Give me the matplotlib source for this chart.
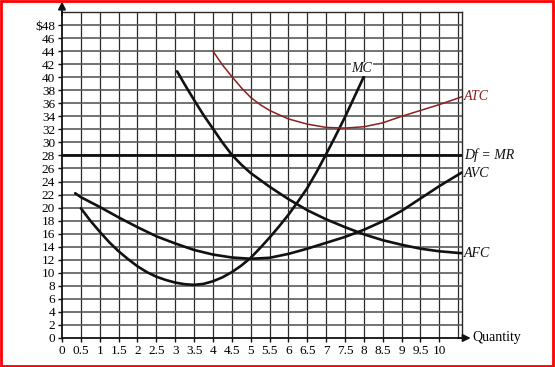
import numpy as np
import matplotlib.pyplot as plt
from matplotlib.patches import Rectangle

# Кривые издержек
mc_q = [0.5, 0.75, 1.0, 1.25, 1.5, 1.75, 2.0, 2.25, 2.5, 2.75, 3.0, 3.25, 3.5, 3.75,
        4.0, 4.25, 4.5, 4.75, 5.0, 5.25, 5.5, 5.75, 6.0, 6.25, 6.5, 6.75, 7.0, 7.25,
        7.5, 7.75, 8.0]
mc = [19.9, 18.0, 16.3, 14.7, 13.3, 12.1, 11.0, 10.1, 9.4, 8.9, 8.5, 8.25, 8.15, 8.3,
      8.7, 9.3, 10.1, 11.1, 12.3, 13.8, 15.4, 17.1, 18.9, 20.9, 23.0, 25.5, 28.2, 31.0,
      33.9, 37.0, 40.1]

avc_q = [0.35, 0.5, 1.0, 1.5, 2.0, 2.5, 3.0, 3.5, 4.0, 4.5, 5.0, 5.5, 6.0, 6.5,
         7.0, 7.5, 8.0, 8.5, 9.0, 9.5, 10.0, 10.6]
avc = [22.2, 21.6, 20.1, 18.5, 17.0, 15.6, 14.5, 13.5, 12.8, 12.35, 12.15, 12.3,
       12.9, 13.7, 14.6, 15.5, 16.6, 17.9, 19.5, 21.4, 23.3, 25.4]

afc_q = [3.05, 3.25, 3.5, 3.75, 4.0, 4.25, 4.5, 4.75, 5.0, 5.5, 6.0, 6.5, 7.0, 7.5,
         8.0, 8.5, 9.0, 9.5, 10.0, 10.6]
afc = [40.9, 38.9, 36.5, 34.2, 32.1, 30.0, 28.1, 26.6, 25.3, 23.2, 21.3, 19.6, 18.2,
       17.0, 15.9, 15.0, 14.3, 13.7, 13.3, 13.0]

atc_q = [4.0, 4.25, 4.5, 4.75, 5.0, 5.25, 5.5, 6.0, 6.5, 7.0, 7.5, 8.0, 8.5, 9.0,
         9.5, 10.0, 10.6]
atc = [44.0, 41.9, 40.1, 38.4, 36.9, 35.8, 34.9, 33.6, 32.8, 32.3, 32.2, 32.4, 33.0,
       34.0, 34.9, 35.8, 37.0]

price = 28
x_ticks = [0, 0.5, 1, 1.5, 2, 2.5, 3, 3.5, 4, 4.5, 5, 5.5, 6, 6.5, 7, 7.5, 8, 8.5, 9, 9.5, 10]
x_tick_labels = ['0', '0.5', '1', '1.5', '2', '2.5', '3', '3.5', '4', '4.5', '5', '5.5',
                 '6', '6.5', '7', '7.5', '8', '8.5', '9', '9.5', '10']
y_ticks = list(range(0, 50, 2))
y_tick_labels = [str(v) for v in y_ticks[:-1]] + ['$48']

X_MAX = 10.6
Y_MAX = 50

plt.rcParams['font.family'] = ['Liberation Serif', 'DejaVu Serif']

fig = plt.figure(figsize=(5.55, 3.67), dpi=100)
ax = fig.add_axes([62 / 555, 29 / 367, 400 / 555, 326 / 367])
ax.set_xlim(0, X_MAX)
ax.set_ylim(0, Y_MAX)

# Сетка
for xv in np.arange(0.5, X_MAX, 0.5):
    ax.axvline(xv, color='#2a2a2a', lw=0.9, zorder=1)
for yv in range(2, Y_MAX, 2):
    ax.axhline(yv, color='#5a5a5a', lw=1.2, zorder=1)

for side in ['top', 'right']:
    ax.spines[side].set_color('#2a2a2a')
    ax.spines[side].set_linewidth(1.0)
for side in ['left', 'bottom']:
    ax.spines[side].set_color('#111111')
    ax.spines[side].set_linewidth(1.3)

# Кривые
curve = dict(color='#111111', lw=1.9, zorder=3, solid_joinstyle='round',
             solid_capstyle='round')
ax.plot(mc_q, mc, **curve)
ax.plot(avc_q, avc, **curve)
ax.plot(afc_q, afc, **curve)
ax.plot(atc_q, atc, color='#8b2020', lw=1.1, zorder=3, solid_joinstyle='round')
ax.plot([0, X_MAX], [price, price], color='#111111', lw=2.0, zorder=3)

# Подписи кривых
lab = dict(fontsize=10, style='italic', va='center', ha='left', clip_on=False)
ax.text(10.65, 37.0, 'ATC', color='#8b2020', **lab)
ax.text(10.65, 28.0, 'Df = MR', color='#111111', **lab)
ax.text(10.65, 25.2, 'AVC', color='#111111', **lab)
ax.text(10.65, 12.9, 'AFC', color='#111111', **lab)
ax.text(7.95, 41.3, 'MC', fontsize=10, style='italic', ha='center', va='center',
        color='#111111', zorder=4,
        bbox=dict(facecolor='white', edgecolor='none', pad=0.5))

# Оси со стрелками
ax.annotate('', xy=(0, 51.6), xytext=(0, 49.5), annotation_clip=False,
            arrowprops=dict(arrowstyle='-|>', color='#111111', lw=1.3,
                            mutation_scale=11, shrinkA=0, shrinkB=0))
ax.annotate('', xy=(10.83, 0), xytext=(10.5, 0), annotation_clip=False,
            arrowprops=dict(arrowstyle='-|>', color='#111111', lw=1.3,
                            mutation_scale=11, shrinkA=0, shrinkB=0))
ax.text(10.88, 0.1, 'Quantity', fontsize=10, ha='left', va='center', clip_on=False)

ax.set_xticks(x_ticks)
ax.set_xticklabels(x_tick_labels)
ax.set_yticks(y_ticks)
ax.set_yticklabels(y_tick_labels)
ax.tick_params(axis='both', labelsize=9.5, length=3, width=1, color='#111111', pad=2)

fig.patches.append(Rectangle((0.002, 0.003), 0.995, 0.994, transform=fig.transFigure,
                             fill=False, edgecolor='red', lw=2))

fig.savefig('out.png', dpi=100)
